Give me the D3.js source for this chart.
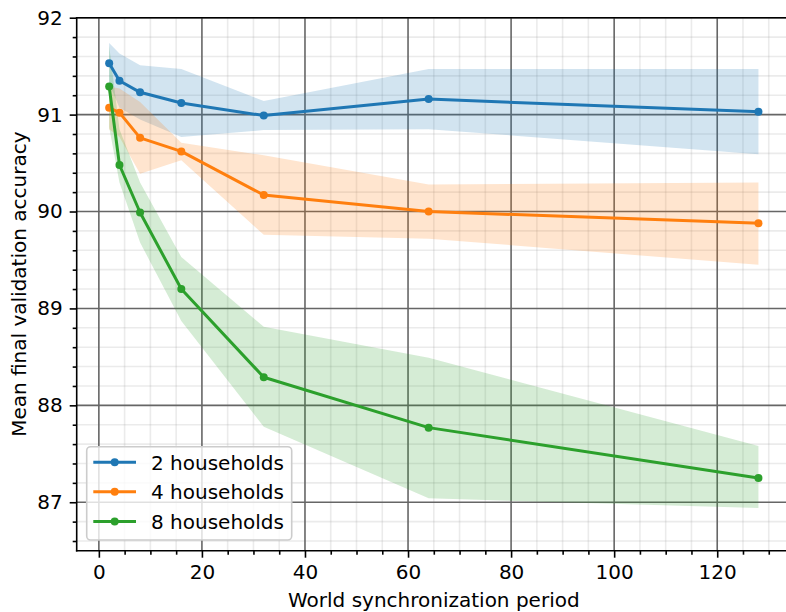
<!DOCTYPE html>
<html>
<head>
<meta charset="utf-8">
<script src="https://cdn.jsdelivr.net/npm/d3@7"></script>
<style>
  html, body { margin: 0; padding: 0; background: #fff; }
  svg { display: block; font-family: "DejaVu Sans", sans-serif; }
</style>
</head>
<body>
<svg id="chart" width="786" height="612"></svg>
<script>
// ---- data ----
const periods = [2, 4, 8, 16, 32, 64, 128];
const seriesNames = ["2 households", "4 households", "8 households"];
const mean2 = [91.53, 91.35, 91.23, 91.12, 90.99, 91.16, 91.03];
const lo2   = [91.32, 91.07, 90.95, 90.77, 90.84, 90.85, 90.59];
const hi2   = [91.74, 91.63, 91.51, 91.47, 91.14, 91.47, 91.47];
const mean4 = [91.07, 91.02, 90.76, 90.62, 90.17, 90.00, 89.88];
const lo4   = [90.85, 90.77, 90.39, 90.53, 89.76, 89.72, 89.45];
const hi4   = [91.29, 91.27, 91.13, 90.71, 90.58, 90.28, 90.30];
const mean8 = [91.29, 90.48, 89.99, 89.20, 88.29, 87.77, 87.25];
const lo8   = [90.87, 90.30, 89.68, 88.87, 87.78, 87.04, 86.94];
const hi8   = [91.71, 90.85, 90.30, 89.53, 88.81, 88.49, 87.58];
const colors = ["#1f77b4", "#ff7f0e", "#2ca02c"];
const xMajorTicks = [0, 20, 40, 60, 80, 100, 120];
const yMajorTicks = [87, 88, 89, 90, 91, 92];
const xLabel = "World synchronization period";
const yLabel = "Mean final validation accuracy";

const series = [
  { name: seriesNames[0], mean: mean2, lo: lo2, hi: hi2, color: colors[0] },
  { name: seriesNames[1], mean: mean4, lo: lo4, hi: hi4, color: colors[1] },
  { name: seriesNames[2], mean: mean8, lo: lo8, hi: hi8, color: colors[2] }
];

// ---- layout ----
const svg = d3.select("#chart");
const axL = 76.7, axT = 17.7, axB = 550.7;
const x = d3.scaleLinear().domain([-4.3, 134.3]).range([axL, axL + 138.6 * 5.153]);
const y = d3.scaleLinear().domain([86.5, 92]).range([axB, axT]);
const axR = x.range()[1];

const xMinor = d3.range(0, 135, 5).filter(v => v % 20 !== 0);
const yMinor = d3.range(86.6, 92.0001, 0.2).map(v => +v.toFixed(1)).filter(v => Math.abs(v - Math.round(v)) > 1e-6);

// minor grid
const g = svg.append("g");
g.selectAll(".mgx").data(xMinor).join("line")
  .attr("x1", d => x(d)).attr("x2", d => x(d)).attr("y1", axT).attr("y2", axB)
  .attr("stroke", "#999999").attr("stroke-opacity", 0.2).attr("stroke-width", 1.6);
g.selectAll(".mgy").data(yMinor).join("line")
  .attr("x1", axL).attr("x2", axR).attr("y1", d => y(d)).attr("y2", d => y(d))
  .attr("stroke", "#999999").attr("stroke-opacity", 0.2).attr("stroke-width", 1.6);
// major grid
g.selectAll(".Mgx").data(xMajorTicks).join("line")
  .attr("x1", d => x(d)).attr("x2", d => x(d)).attr("y1", axT).attr("y2", axB)
  .attr("stroke", "#666666").attr("stroke-width", 1.6);
g.selectAll(".Mgy").data(yMajorTicks).join("line")
  .attr("x1", axL).attr("x2", axR).attr("y1", d => y(d)).attr("y2", d => y(d))
  .attr("stroke", "#666666").attr("stroke-width", 1.6);

// bands
const area = d3.area().x(d => x(d.p)).y0(d => y(d.lo)).y1(d => y(d.hi));
series.forEach(s => {
  const pts = periods.map((p, i) => ({ p, lo: s.lo[i], hi: s.hi[i] }));
  svg.append("path").datum(pts).attr("d", area)
    .attr("fill", s.color).attr("fill-opacity", 0.2);
});

// lines + markers
const line = d3.line().x(d => x(d.p)).y(d => y(d.v));
series.forEach(s => {
  const pts = periods.map((p, i) => ({ p, v: s.mean[i] }));
  svg.append("path").datum(pts).attr("d", line)
    .attr("fill", "none").attr("stroke", s.color).attr("stroke-width", 3)
    .attr("stroke-linejoin", "round").attr("stroke-linecap", "square");
  svg.append("g").selectAll("circle").data(pts).join("circle")
    .attr("cx", d => x(d.p)).attr("cy", d => y(d.v)).attr("r", 4)
    .attr("fill", s.color);
});

// axes
const xAxis = d3.axisBottom(x).tickValues(xMajorTicks).tickSize(7).tickPadding(7).tickFormat(d3.format("d"));
const xAxisMinor = d3.axisBottom(x).tickValues(xMinor).tickSize(4).tickFormat("");
const yAxis = d3.axisLeft(y).tickValues(yMajorTicks).tickSize(7).tickPadding(7).tickFormat(d3.format("d"));
const yAxisMinor = d3.axisLeft(y).tickValues(yMinor).tickSize(4).tickFormat("");

function styleAxis(sel) {
  sel.selectAll(".domain").remove();
  sel.selectAll(".tick line").attr("stroke", "#000").attr("stroke-width", 1.6);
  sel.selectAll(".tick text").attr("fill", "#000").attr("font-size", 20)
     .attr("font-family", "DejaVu Sans, sans-serif");
}
svg.append("g").attr("transform", `translate(0,${axB})`).call(xAxis).call(styleAxis);
svg.append("g").attr("transform", `translate(0,${axB})`).call(xAxisMinor).call(styleAxis);
svg.append("g").attr("transform", `translate(${axL},0)`).call(yAxis).call(styleAxis);
svg.append("g").attr("transform", `translate(${axL},0)`).call(yAxisMinor).call(styleAxis);

// spines
svg.append("line").attr("x1", axL).attr("x2", axL).attr("y1", axT - 0.8).attr("y2", axB + 0.8)
  .attr("stroke", "#000").attr("stroke-width", 1.6);
svg.append("line").attr("x1", axL - 0.8).attr("x2", axR).attr("y1", axB).attr("y2", axB)
  .attr("stroke", "#000").attr("stroke-width", 1.6);
svg.append("line").attr("x1", axL - 0.8).attr("x2", axR).attr("y1", axT).attr("y2", axT)
  .attr("stroke", "#000").attr("stroke-width", 1.6);

// axis labels
svg.append("text").attr("x", (axL + axR) / 2).attr("y", 607)
  .attr("text-anchor", "middle").attr("font-size", 20).attr("fill", "#000").text(xLabel);
svg.append("text").attr("transform", `translate(26,${(axT + axB) / 2}) rotate(-90)`)
  .attr("text-anchor", "middle").attr("font-size", 20).attr("fill", "#000").text(yLabel);

// legend
const lg = svg.append("g");
lg.append("rect").attr("x", 86.7).attr("y", 446.7).attr("width", 205).attr("height", 93.3)
  .attr("rx", 4).attr("fill", "#fff").attr("fill-opacity", 0.8)
  .attr("stroke", "#cccccc").attr("stroke-width", 1.6);
const rowY = [462.3, 491.8, 521.5];
series.forEach((s, i) => {
  lg.append("line").attr("x1", 93.3).attr("x2", 136).attr("y1", rowY[i]).attr("y2", rowY[i])
    .attr("stroke", s.color).attr("stroke-width", 3);
  lg.append("circle").attr("cx", 114.7).attr("cy", rowY[i]).attr("r", 4).attr("fill", s.color);
  lg.append("text").attr("x", 151).attr("y", rowY[i]).attr("dy", "0.36em")
    .attr("font-size", 20).attr("fill", "#000").text(s.name);
});
</script>
</body>
</html>
